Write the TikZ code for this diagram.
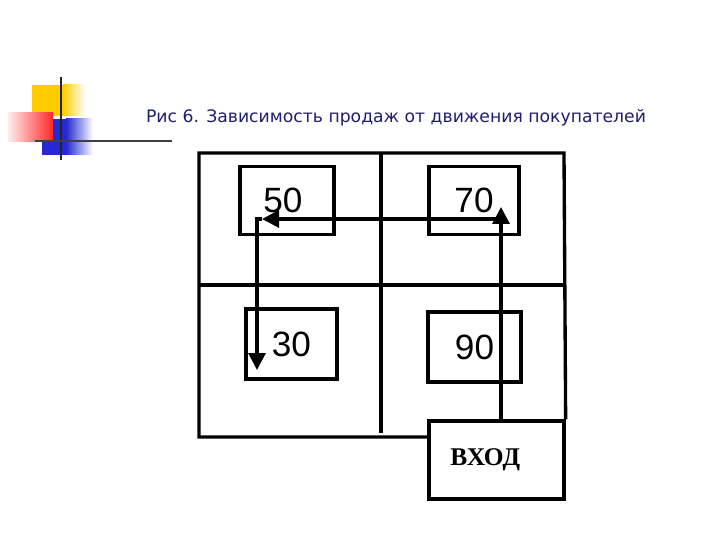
\documentclass[tikz,border=0pt]{standalone}
\usepackage{fontspec}
\usepackage{tikz}
\usetikzlibrary{arrows.meta}
\newfontfamily\titlefont{DejaVu Sans}
\newfontfamily\digitfont{Liberation Sans}
\newfontfamily\entryfont{Liberation Serif}
\definecolor{titleblue}{RGB}{30,30,110}
\definecolor{logoyellow}{RGB}{255,204,0}
\definecolor{logored}{RGB}{255,40,40}
\definecolor{logoblue}{RGB}{40,40,210}
\tikzset{
  wall/.style={line width=1.9pt},
  shopbox/.style={draw,line width=1.9pt,minimum height=1.36cm,inner sep=0pt,font=\digitfont\fontsize{20}{22}\selectfont},
  route/.style={line width=1.8pt,-{Triangle[length=0.34cm,width=0.34cm]}},
}
\begin{document}
\begin{tikzpicture}[x=0.02cm,y=-0.02cm]
\useasboundingbox (0,0) rectangle (720,540);
% logo
\fill[logoyellow] (32,85) rectangle (63,116);
\shade[left color=logoyellow,right color=white] (63,85) rectangle (85,116);
\fill[logoblue] (42,119) rectangle (66,155);
\shade[left color=logoblue,right color=white] (66,119) rectangle (93,155);
\shade[left color=logored!8,right color=logored] (8,113) rectangle (53,142);
\draw[line width=1.6pt,black!85] (61,77)--(61,160);
\draw[line width=1.6pt,black!75] (35,141)--(172,141);
% title
\node[text=titleblue,font=\titlefont\fontsize{9.8}{12}\selectfont] (title) at (396,118)
  {Рис 6. Зависимость продаж от движения покупателей};
% shop plan
\node[shopbox,minimum width=1.88cm] (s50) at (287,200.5) {50\kern0.16cm};
\node[shopbox,minimum width=1.80cm] (s70) at (474,200.5) {70};
\node[shopbox,minimum width=1.82cm,minimum height=1.40cm] (s30) at (291.5,344) {30};
\node[shopbox,minimum width=1.86cm,minimum height=1.40cm] (s90) at (474.5,347) {90};
\node[shopbox,minimum width=2.70cm,minimum height=1.56cm,font=\entryfont\bfseries\fontsize{14.5}{16}\selectfont]
  (enter) at (496.5,460) {ВХОД\kern0.45cm};
\coordinate (NW) at (199,153);
\coordinate (NE) at (564,153);
\coordinate (SW) at (199,437);
\coordinate (MW) at (199,285);
\coordinate (MN) at (381,153);
\draw[wall] (enter.north east)--(NE)--(NW)--(SW)--(enter.west |- SW);
\draw[wall] (MW)--(MW -| NE);
\draw[wall] (MN)--(381,433);
% route
\coordinate (t70) at (501,207);
\coordinate (t50) at (262,219);
\coordinate (c50) at (257,219);
\coordinate (t30) at (257,370);
\draw[route] (t70 |- enter.north)--(t70);
\draw[route] (t70 |- t50)--(t50);
\draw[route] (t50)--(c50)--(t30);
\end{tikzpicture}
\end{document}
